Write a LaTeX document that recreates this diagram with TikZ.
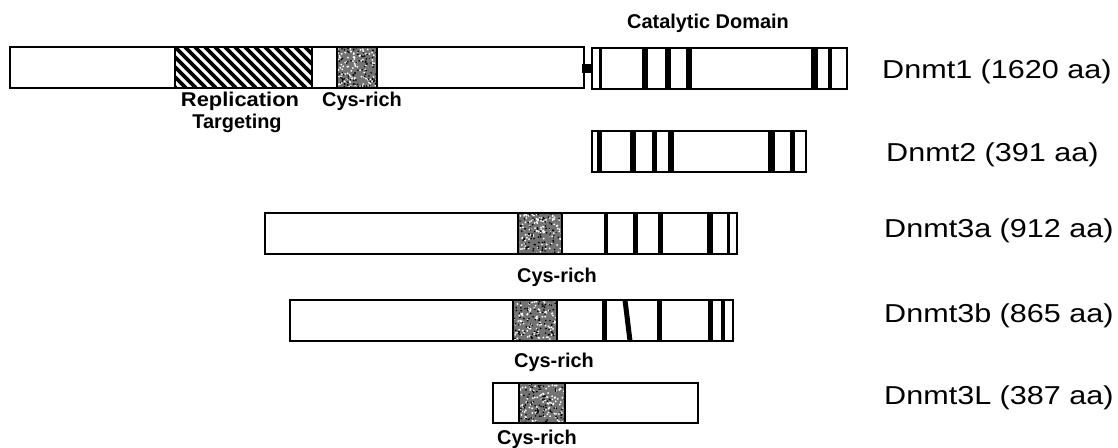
\documentclass[tikz,border=0pt]{standalone}
\usepackage{fontspec}
\setmainfont{Liberation Sans}
\begin{document}
\newcommand{\stip}[4]{%
  \fill[black!55] (#1,#2) rectangle (#3,#4);
  \begin{scope}
    \clip (#1,#2) rectangle (#3,#4);
    \foreach \k in {1,...,110}{%
      \pgfmathsetmacro\px{#1+rnd*(#3-#1)}%
      \pgfmathsetmacro\py{#2+rnd*(#4-#2)}%
      \fill[white] (\px,\py) circle (1.0);}
    \foreach \k in {1,...,90}{%
      \pgfmathsetmacro\px{#1+rnd*(#3-#1)}%
      \pgfmathsetmacro\py{#2+rnd*(#4-#2)}%
      \fill[black] (\px,\py) circle (0.9);}
  \end{scope}
  \draw[edge] (#1,#2) rectangle (#3,#4);}
\begin{tikzpicture}[x=1bp,y=-1bp,
  edge/.style={line width=1.6bp},
  bar/.style={draw=black,line width=1.6bp,fill=white},
  vl/.style={line width=#1 bp},
  lbl/.style={font=\bfseries\fontsize{20}{22}\selectfont,inner sep=0pt},
  pname/.style={font=\fontsize{26}{28}\selectfont,xscale=1.18,inner sep=0pt,anchor=west}]
\pgfmathsetseed{7}
\useasboundingbox (0,0) rectangle (1118,448);
% ---------- Dnmt1
\draw[bar] (10,47) rectangle (584,88);
\begin{scope}
  \clip (175,47) rectangle (312,88);
  \foreach \i in {125,135,...,315}{\draw[line width=3.6bp] (\i,47) -- (\i+41,88);}
\end{scope}
\draw[edge] (175,47) -- (175,88) (312,47) -- (312,88);
\stip{337}{47}{377}{88}
\fill (582,64) rectangle (593,73);
\draw[bar] (592,48) rectangle (847,89);
\foreach \x/\w in {600/3,645/6,668/6,689/6,814/7,830/4}{\draw[vl=\w] (\x,48) -- (\x,89);}
% ---------- Dnmt2
\draw[bar] (592,131) rectangle (806,172);
\foreach \x/\w in {599/5,633/6,654/5,671/6,771/7,792/5}{\draw[vl=\w] (\x,131) -- (\x,172);}
% ---------- Dnmt3a
\draw[bar] (265,213) rectangle (737,254);
\stip{518}{213}{562}{254}
\foreach \x/\w in {606/4,635/5,660/5,710/6,728/3}{\draw[vl=\w] (\x,213) -- (\x,254);}
% ---------- Dnmt3b
\draw[bar] (290,300) rectangle (733,341);
\stip{513}{300}{557}{341}
\foreach \x/\w in {604/5,659/5,710/5,723/4}{\draw[vl=\w] (\x,300) -- (\x,341);}
\draw[vl=5] (625,300) -- (630,341);
% ---------- Dnmt3L
\draw[bar] (493,383) rectangle (698,423);
\stip{519}{383}{565}{423}
% ---------- labels
\node[lbl] (cat) at (708,23) {Catalytic Domain};
\node[lbl,xscale=1.1] (rep) at (240,101) {Replication};
\node[lbl] (tgt) at (237,123) {Targeting};
\node[lbl] (cys1) at (362,101) {Cys-rich};
\node[lbl] (cys3a) at (557,277) {Cys-rich};
\node[lbl] (cys3b) at (554,362) {Cys-rich};
\node[lbl] (cys3L) at (537,439) {Cys-rich};
\node[pname] (n1) at (882,72) {Dnmt1 (1620 aa)};
\node[pname] (n2) at (886,155) {Dnmt2 (391 aa)};
\node[pname] (n3a) at (884,231) {Dnmt3a (912 aa)};
\node[pname] (n3b) at (884,316) {Dnmt3b (865 aa)};
\node[pname] (n3L) at (884,398) {Dnmt3L (387 aa)};
\end{tikzpicture}
\end{document}
